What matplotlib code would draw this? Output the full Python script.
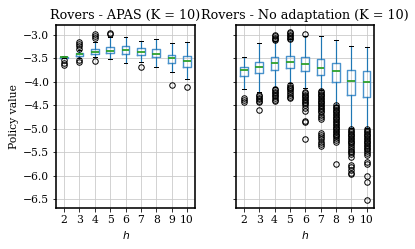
import matplotlib

matplotlib.use("Agg")
import matplotlib.pyplot as plt  # noqa: E402

plt.rcParams["font.family"] = "DejaVu Serif"
plt.rcParams["font.size"] = 10.7

h_values = [2, 3, 4, 5, 6, 7, 8, 9, 10]

# APAS panel: box statistics
apas_med = [-3.48, -3.41, -3.37, -3.335, -3.32, -3.36, -3.405, -3.50, -3.56]
apas_q1 = [-3.49, -3.445, -3.405, -3.38, -3.405, -3.44, -3.475, -3.60, -3.675]
apas_q3 = [-3.47, -3.38, -3.305, -3.25, -3.23, -3.28, -3.305, -3.43, -3.46]
apas_lo = [-3.50, -3.50, -3.48, -3.52, -3.59, -3.58, -3.69, -3.79, -3.945]
apas_hi = [-3.46, -3.33, -3.16, -3.05, -3.05, -3.125, -3.10, -3.185, -3.16]
apas_fliers = [
    [-3.54, -3.59, -3.64],
    [-3.16, -3.20, -3.23, -3.30, -3.53, -3.57],
    [-2.99, -3.02, -3.06, -3.56],
    [-2.96, -2.99],
    [],
    [-3.69],
    [],
    [-4.07],
    [-4.115],
]

# No adaptation panel
noad_med = [-3.75, -3.675, -3.605, -3.57, -3.625, -3.70, -3.78, -3.98, -3.995]
noad_q1 = [-3.875, -3.82, -3.75, -3.71, -3.78, -3.85, -4.0, -4.28, -4.315]
noad_q3 = [-3.675, -3.57, -3.48, -3.46, -3.48, -3.52, -3.59, -3.746, -3.77]
noad_lo = [-4.15, -4.21, -4.10, -4.03, -4.14, -4.17, -4.49, -4.99, -4.99]
noad_hi = [-3.48, -3.185, -3.14, -3.10, -3.03, -3.035, -3.12, -3.235, -3.25]
noad_fliers = [
    [-4.35, -4.385, -4.42],
    [-4.28, -4.31, -4.34, -4.37, -4.40, -4.435, -4.60],
    [-3.00, -3.03, -3.06, -3.09, -3.12, -4.15, -4.18, -4.21, -4.24, -4.27,
     -4.30, -4.34, -4.38, -4.41],
    [-2.945, -2.97, -3.00, -3.03, -3.06, -3.09, -4.07, -4.10, -4.13, -4.16,
     -4.20, -4.24, -4.28, -4.32, -4.35],
    [-2.98, -4.21, -4.24, -4.27, -4.30, -4.33, -4.36, -4.39, -4.42, -4.46,
     -4.49, -4.56, -4.62, -4.83, -4.85, -5.21],
    [-4.19, -4.22, -4.25, -4.28, -4.31, -4.34, -4.37, -4.40, -4.43, -4.46,
     -4.49, -4.52, -4.55, -4.58, -4.61, -4.65, -4.70, -4.74, -4.80, -5.08,
     -5.13, -5.17, -5.22, -5.27, -5.33, -5.37],
    [-4.50, -4.53, -4.56, -4.59, -4.62, -4.65, -4.68, -4.71, -4.74, -4.77,
     -4.80, -4.83, -4.86, -4.89, -4.92, -4.95, -4.98, -5.01, -5.04, -5.07,
     -5.10, -5.13, -5.16, -5.20, -5.24, -5.27, -5.74],
    [-5.01, -5.04, -5.07, -5.10, -5.13, -5.16, -5.19, -5.22, -5.25, -5.28,
     -5.31, -5.34, -5.38, -5.42, -5.46, -5.50, -5.53, -5.60, -5.77, -5.82,
     -5.87, -5.93, -5.96],
    [-5.01, -5.04, -5.07, -5.10, -5.13, -5.16, -5.19, -5.22, -5.25, -5.28,
     -5.31, -5.34, -5.37, -5.40, -5.43, -5.47, -5.52, -5.56, -5.70, -5.75,
     -6.00, -6.13, -6.52],
]

titles = ["Rovers - APAS (K = 10)", "Rovers - No adaptation (K = 10)"]


def make_stats(med, q1, q3, lo, hi, fliers):
    return [
        dict(med=m, q1=a, q3=b, whislo=w0, whishi=w1, fliers=f)
        for m, a, b, w0, w1, f in zip(med, q1, q3, lo, hi, fliers)
    ]


panels = [
    make_stats(apas_med, apas_q1, apas_q3, apas_lo, apas_hi, apas_fliers),
    make_stats(noad_med, noad_q1, noad_q3, noad_lo, noad_hi, noad_fliers),
]

fig, axes = plt.subplots(1, 2, figsize=(415 / 72, 249 / 72), dpi=72, sharey=True)
fig.subplots_adjust(left=0.136, right=0.902, bottom=0.163, top=0.90, wspace=0.30)

positions = list(range(1, len(h_values) + 1))
for ax, stats, title in zip(axes, panels, titles):
    parts = ax.bxp(
        stats,
        positions=positions,
        flierprops=dict(marker="o", markersize=5.5, markerfacecolor="none",
                        markeredgecolor="black"),
    )
    for line in parts["boxes"]:
        line.set_color("#4a92cc")
        line.set_linewidth(1.4)
    for line in parts["whiskers"]:
        line.set_color("#1f77b4")
        line.set_linewidth(1.2)
    for line in parts["caps"]:
        line.set_color("black")
    for line in parts["medians"]:
        line.set_color("#2ca02c")
        line.set_linewidth(1.8)
    ax.set_xticks(positions)
    ax.set_xticklabels([str(h) for h in h_values])
    ax.set_xlim(0.5, len(h_values) + 0.5)
    ax.grid(True, color="#c8c8c8")
    ax.set_axisbelow(True)
    ax.set_title(title, fontsize=12.8)
    ax.set_xlabel("$h$")
    for sp in ax.spines.values():
        sp.set_linewidth(1.6)

axes[0].set_ylim(-6.69, -2.79)
axes[0].set_yticks([-3.0, -3.5, -4.0, -4.5, -5.0, -5.5, -6.0, -6.5])
axes[0].set_ylabel("Policy value")

fig.savefig("out.png", dpi=72)
